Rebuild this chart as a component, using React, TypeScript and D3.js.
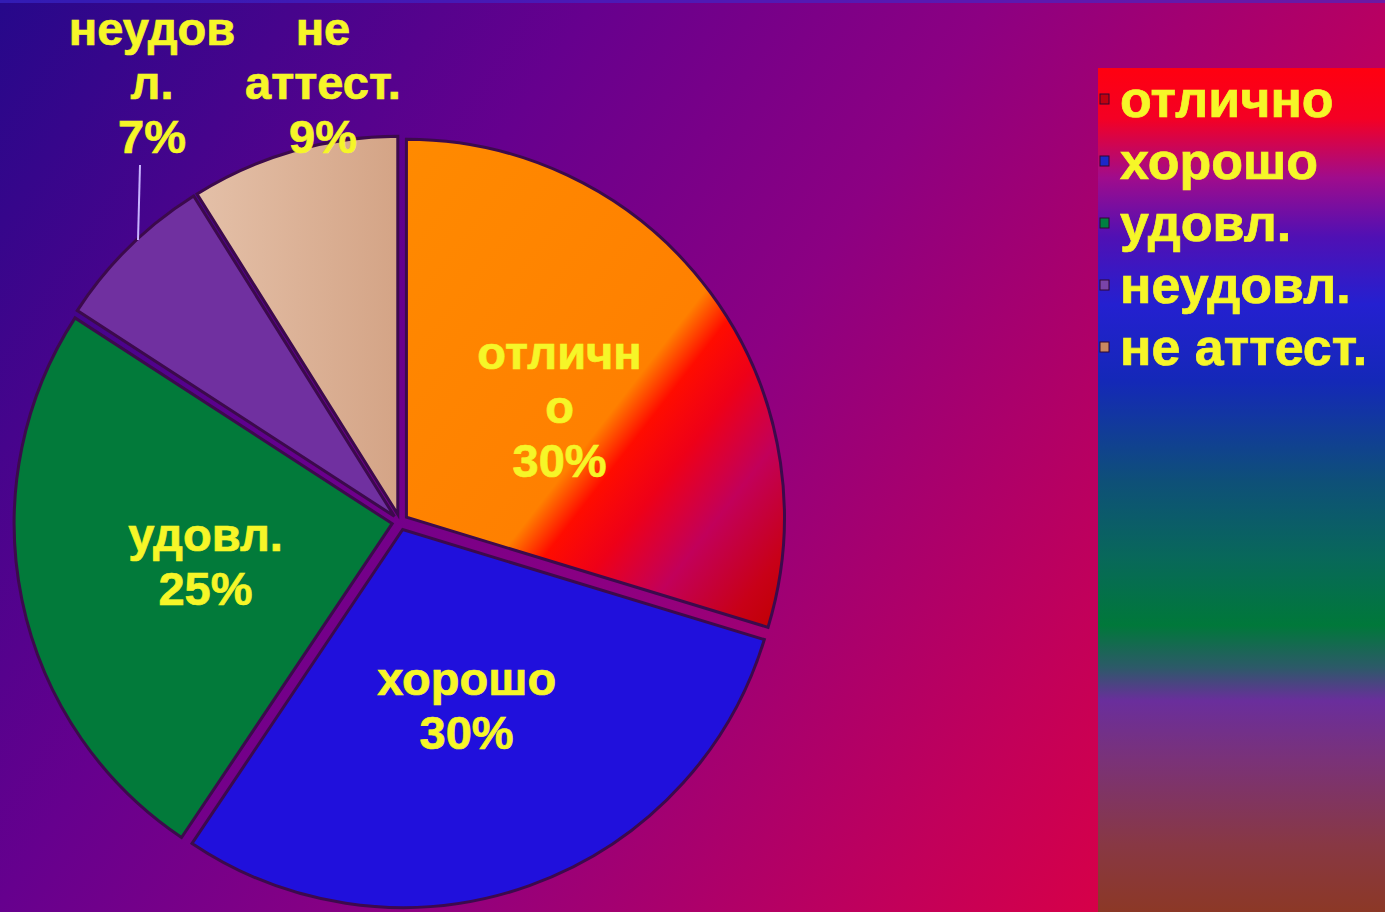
import React from "react";
import * as d3 from "d3";

const categories = ["отлично", "хорошо", "удовл.", "неудовл.", "не аттест."];
const values = [30, 30, 25, 7, 9];
const percentLabels = ["30%", "30%", "25%", "7%", "9%"];
// category names as wrapped inside the slice labels
const sliceNameLines = [["отличн", "о"], ["хорошо"], ["удовл."], ["неудов", "л."], ["не", "аттест."]];
const sliceFills = ["url(#gOtl)", "#2010dc", "#027a3a", "#7030a0", "url(#gNe)"];
const legendMarkers = ["#c00010", "#1c28c8", "#008040", "#7a44a8", "#c88860"];

const W = 1385;
const H = 912;
const CX = 400;
const CY = 522;
const R = 378;
const EXPLODE = 8;
const FONT = "'Liberation Sans', Arial, Helvetica, sans-serif";
const TXT = "#f6f628";

export default function App() {
  const pie = d3.pie<number>().sort(null).value((d) => d)(values);
  const arc = d3.arc<d3.PieArcDatum<number>>().innerRadius(0).outerRadius(R);
  const centroidArc = d3.arc<d3.PieArcDatum<number>>().innerRadius(0).outerRadius(R * 1.03);
  const lineH = 54;

  // outside label anchors for the two small slices (layout placement)
  const outsidePos: Record<number, [number, number]> = { 3: [152, 45], 4: [323, 45] };

  return (
    <svg width={W} height={H} style={{ position: "absolute", left: 0, top: 0, display: "block" }}>
      <defs>
        <linearGradient id="bg" gradientUnits="userSpaceOnUse" x1={0} y1={0} x2={W} y2={H}>
          <stop offset="0" stopColor="#26088a" />
          <stop offset="0.3" stopColor="#66008e" />
          <stop offset="0.5" stopColor="#8c0082" />
          <stop offset="0.75" stopColor="#c2005a" />
          <stop offset="1" stopColor="#f20030" />
        </linearGradient>
        <linearGradient id="lg" x1="0" y1="0" x2="0" y2="1">
          <stop offset="0" stopColor="#ff0010" />
          <stop offset="0.06" stopColor="#f40024" />
          <stop offset="0.13" stopColor="#a00c8c" />
          <stop offset="0.2" stopColor="#5010b4" />
          <stop offset="0.28" stopColor="#2420d0" />
          <stop offset="0.37" stopColor="#1428b8" />
          <stop offset="0.49" stopColor="#0e5078" />
          <stop offset="0.58" stopColor="#08685a" />
          <stop offset="0.66" stopColor="#00783a" />
          <stop offset="0.71" stopColor="#2c5a68" />
          <stop offset="0.75" stopColor="#6a2e9c" />
          <stop offset="0.82" stopColor="#7a3278" />
          <stop offset="0.92" stopColor="#883844" />
          <stop offset="1" stopColor="#8c3826" />
        </linearGradient>
        <linearGradient id="gOtl" x1="0" y1="0" x2="1" y2="1">
          <stop offset="0" stopColor="#ff8a00" />
          <stop offset="0.55" stopColor="#ff8000" />
          <stop offset="0.61" stopColor="#ff0c00" />
          <stop offset="0.69" stopColor="#ee0018" />
          <stop offset="0.8" stopColor="#c2005a" />
          <stop offset="0.92" stopColor="#c80018" />
          <stop offset="1" stopColor="#c00000" />
        </linearGradient>
        <linearGradient id="gNe" x1="0" y1="0" x2="1" y2="0">
          <stop offset="0" stopColor="#e4c0a8" />
          <stop offset="1" stopColor="#d4a486" />
        </linearGradient>
      </defs>

      <rect x={0} y={0} width={W} height={H} fill="url(#bg)" />
      <rect x={0} y={0} width={W} height={3} fill="#3a2ad0" opacity={0.6} />

      {/* legend box */}
      <rect x={1098} y={68} width={W - 1098} height={H - 68} fill="url(#lg)" />

      {/* pie */}
      <g transform={`translate(${CX},${CY})`}>
        {pie.map((p, i) => {
          const mid = (p.startAngle + p.endAngle) / 2;
          const dx = Math.sin(mid) * EXPLODE;
          const dy = -Math.cos(mid) * EXPLODE;
          return (
            <path
              key={i}
              d={arc(p) || ""}
              transform={`translate(${dx},${dy})`}
              fill={sliceFills[i]}
              stroke="#3c0a4c"
              strokeWidth={3}
            />
          );
        })}
      </g>

      {/* slice labels */}
      {pie.map((p, i) => {
        const lines = [...sliceNameLines[i], percentLabels[i]];
        let x: number;
        let y0: number;
        if (outsidePos[i]) {
          [x, y0] = outsidePos[i];
        } else {
          const c = centroidArc.centroid(p);
          x = CX + c[0] * 1.02;
          const yc = CY + c[1];
          y0 = yc - ((lines.length - 1) * lineH) / 2 + 17;
        }
        return (
          <text
            key={i}
            fontFamily={FONT}
            fontWeight="bold"
            fontSize={47}
            fill={TXT}
            stroke={TXT}
            strokeWidth={0.7}
            textAnchor="middle"
          >
            {lines.map((l, k) => (
              <tspan key={k} x={x} y={y0 + k * lineH}>
                {l}
              </tspan>
            ))}
          </text>
        );
      })}

      {/* leader line for неудовл. */}
      <line x1={140} y1={165} x2={138} y2={240} stroke="#c8b4ff" strokeWidth={2} />

      {/* legend entries */}
      {categories.map((c, i) => {
        const by = 117 + i * 62;
        return (
          <g key={c}>
            <rect x={1100} y={by - 23} width={9} height={10} fill={legendMarkers[i]} stroke="#300830" strokeWidth={1} />
            <text
              x={1120}
              y={by}
              fontFamily={FONT}
              fontWeight="bold"
              fontSize={52}
              fill={TXT}
              stroke={TXT}
              strokeWidth={0.7}
            >
              {c}
            </text>
          </g>
        );
      })}
    </svg>
  );
}
